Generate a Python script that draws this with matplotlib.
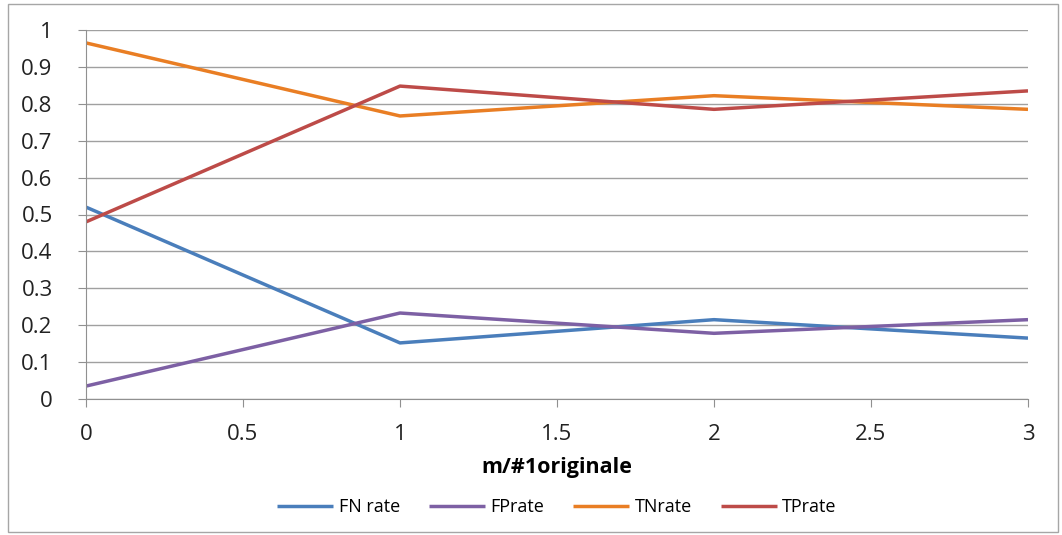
import matplotlib
matplotlib.use("Agg")
import matplotlib.pyplot as plt
from matplotlib.patches import Rectangle

# 데이터
x_vals = [0, 1, 2, 3]
fn_rate = [0.52, 0.152, 0.215, 0.165]
fp_rate = [0.035, 0.233, 0.178, 0.215]
tn_rate = [0.965, 0.767, 0.822, 0.785]
tp_rate = [0.48, 0.848, 0.785, 0.835]
series_labels = ["FN rate", "FPrate", "TNrate", "TPrate"]
series_colors = ["#4a7ebb", "#7d60a4", "#e97e24", "#bd4b48"]

plt.rcParams["font.family"] = ["Open Sans", "DejaVu Sans"]

fig = plt.figure(figsize=(10.62, 5.35), dpi=100)
fig.patch.set_facecolor("white")
# 바깥 테두리
fig.patches.append(Rectangle((8 / 1062, 3 / 535), 1050 / 1062, 528 / 535,
                             transform=fig.transFigure, fill=False,
                             edgecolor="#a6a6a6", linewidth=1.0))

ax = fig.add_axes([86 / 1062, 136 / 535, 942 / 1062, 369 / 535])
for vals, lab, col in zip([fn_rate, fp_rate, tn_rate, tp_rate], series_labels, series_colors):
    ax.plot(x_vals, vals, color=col, linewidth=2.5, label=lab, solid_capstyle="butt")

ax.set_xlim(0, 3)
ax.set_ylim(0, 1)
ax.set_yticks([i / 10 for i in range(11)])
ax.set_yticklabels(["0", "0.1", "0.2", "0.3", "0.4", "0.5", "0.6", "0.7", "0.8", "0.9", "1"])
ax.set_xticks([0, 0.5, 1, 1.5, 2, 2.5, 3])
ax.set_xticklabels(["0", "0.5", "1", "1.5", "2", "2.5", "3"])
ax.grid(axis="y", color="#a0a0a0", linewidth=1.0)
ax.set_axisbelow(True)
for s in ["top", "right"]:
    ax.spines[s].set_visible(False)
for s in ["left", "bottom"]:
    ax.spines[s].set_color("#909090")
ax.tick_params(axis="both", colors="#909090", labelcolor="#222222", labelsize=16,
               length=6, direction="out")
ax.tick_params(axis="y", pad=18)
ax.tick_params(axis="x", pad=12)

ax.set_xlabel("m/#1originale", fontsize=15.5, fontweight="bold", labelpad=9)
ax.legend(loc="center", bbox_to_anchor=(0.5, -108 / 369), ncol=4, frameon=False,
          fontsize=13, handlelength=3.1, columnspacing=1.6, handletextpad=0.3)

fig.savefig("out.png", dpi=100)
